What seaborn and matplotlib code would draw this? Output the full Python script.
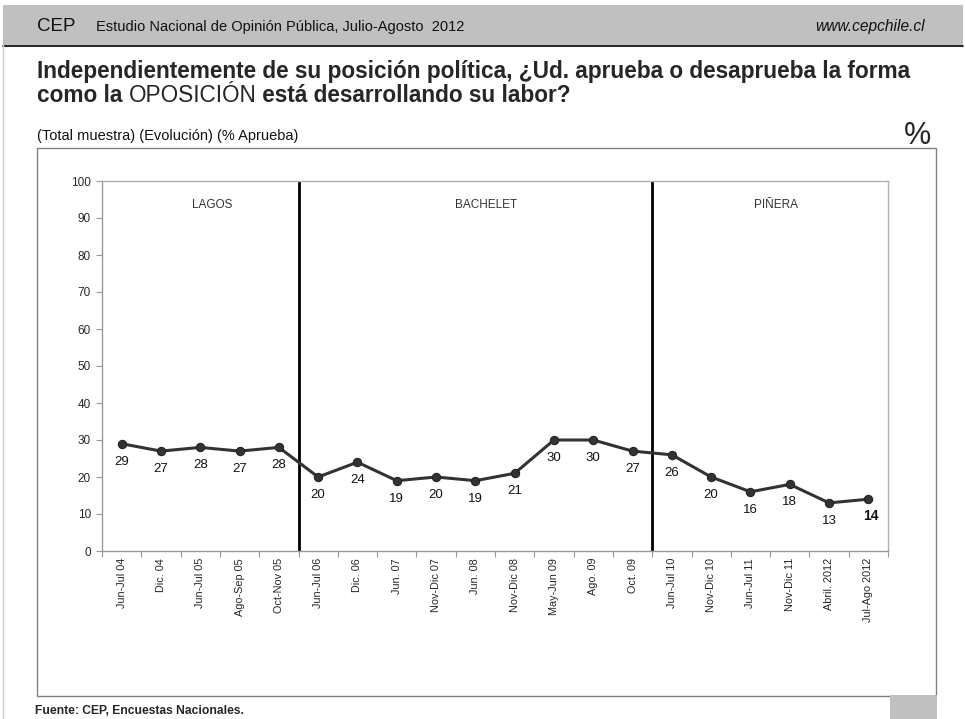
import numpy as np
import matplotlib.pyplot as plt
import matplotlib.patches as patches
import seaborn as sns
import pandas as pd

# Survey waves and % approval of the opposition
periods = ['Jun-Jul 04', 'Dic. 04', 'Jun-Jul 05', 'Ago-Sep 05', 'Oct-Nov 05',
           'Jun-Jul 06', 'Dic. 06', 'Jun. 07', 'Nov-Dic 07', 'Jun. 08',
           'Nov-Dic 08', 'May-Jun 09', 'Ago. 09', 'Oct. 09', 'Jun-Jul 10',
           'Nov-Dic 10', 'Jun-Jul 11', 'Nov-Dic 11', 'Abril. 2012', 'Jul-Ago 2012']
aprueba = [29, 27, 28, 27, 28, 20, 24, 19, 20, 19,
           21, 30, 30, 27, 26, 20, 16, 18, 13, 14]
gobiernos = ['LAGOS', 'BACHELET', 'PIÑERA']
inicio_gobierno = ['Jun-Jul 06', 'Jun-Jul 10']
y_ticks = list(range(0, 101, 10))

df = pd.DataFrame({'periodo': periods, 'aprueba': aprueba})
df['x'] = np.arange(len(df))

sns.set_style('white')
plt.rcParams['font.family'] = ['Liberation Sans', 'DejaVu Sans']

W, H = 965, 719
fig = plt.figure(figsize=(W / 100, H / 100), dpi=100)


def fx(px):
    return px / W


def fy(py):
    return 1 - py / H


# page decorations: header band, left border, chart frame, footer block
fig.patches.append(patches.Rectangle((fx(3), fy(45)), fx(960), 40 / H,
                                     transform=fig.transFigure, facecolor='#c0c0c0',
                                     edgecolor='none', zorder=-2))
fig.patches.append(patches.Rectangle((fx(37), fy(696)), fx(899), 548 / H,
                                     transform=fig.transFigure, facecolor='white',
                                     edgecolor='#808080', lw=1, zorder=-2))
fig.patches.append(patches.Rectangle((fx(890), 0), fx(47), 24 / H,
                                     transform=fig.transFigure, facecolor='#c0c0c0',
                                     edgecolor='none', zorder=-2))
fig.add_artist(plt.Line2D([fx(3), fx(963)], [fy(46)] * 2,
                          transform=fig.transFigure, color='black', lw=1.2))
fig.add_artist(plt.Line2D([fx(3)] * 2, [0, fy(45)],
                          transform=fig.transFigure, color='#c8c8c8', lw=1))

fig.text(fx(37), fy(31), 'CEP', fontsize=13.5, va='baseline', ha='left', color='#111111')
fig.text(fx(96), fy(31), 'Estudio Nacional de Opinión Pública, Julio-Agosto  2012',
         fontsize=10.5, va='baseline', ha='left', color='#111111')
fig.text(fx(925), fy(31), 'www.cepchile.cl', fontsize=11.2, style='italic',
         va='baseline', ha='right', color='#111111')

fig.text(fx(37), fy(78),
         'Independientemente de su posición política, ¿Ud. aprueba o desaprueba la forma',
         fontsize=16.3, fontweight='bold', va='baseline', ha='left')
t = fig.text(fx(37), fy(102), 'como la ', fontsize=16.3, fontweight='bold',
             va='baseline', ha='left')
fig.canvas.draw()
rend = fig.canvas.get_renderer()
bb = t.get_window_extent(renderer=rend)
t2 = fig.text(bb.x1 / fig.bbox.width, fy(102), 'OPOSICIÓN', fontsize=16.3,
              va='baseline', ha='left')
bb2 = t2.get_window_extent(renderer=rend)
fig.text(bb2.x1 / fig.bbox.width, fy(102), ' está desarrollando su labor?',
         fontsize=16.3, fontweight='bold', va='baseline', ha='left')

fig.text(fx(37), fy(140), '(Total muestra) (Evolución) (% Aprueba)',
         fontsize=10.5, va='baseline', ha='left', color='#111111')
fig.text(fx(931), fy(144), '%', fontsize=22, va='baseline', ha='right')
fig.text(fx(35), fy(714), 'Fuente: CEP, Encuestas Nacionales.',
         fontsize=8.7, fontweight='bold', va='baseline', ha='left')

ax = fig.add_axes([fx(102), fy(551), fx(786), 370 / H])
ax.set_facecolor('none')
sns.lineplot(data=df, x='x', y='aprueba', ax=ax, color='#333333', lw=2.2,
             marker='o', markersize=6, markeredgecolor='#222222',
             markerfacecolor='#333333', zorder=3)

for i, (xv, yv) in enumerate(zip(df['x'], df['aprueba'])):
    last = i == len(df) - 1
    ax.annotate(str(yv), (xv, yv), xytext=(2 if last else 0, -12 if last else -13),
                textcoords='offset points', ha='center', va='center',
                fontsize=10 if last else 9.5,
                fontweight='bold' if last else 'normal', color='#111111')

for p in inicio_gobierno:
    ax.axvline(periods.index(p) - 0.5, color='black', lw=2, zorder=2)

gob_x = [2.3, 9.27, 16.65]
for g, gx in zip(gobiernos, gob_x):
    ax.text(gx, 93.5, g, ha='center', va='center', fontsize=8.5, color='#333333')

ax.set_xlim(-0.5, len(periods) - 0.5)
ax.set_ylim(0, 100)
ax.set_yticks(y_ticks)
ax.set_xticks(np.arange(len(periods) + 1) - 0.5)
ax.set_xticklabels([])
ax.set_xticks(df['x'], minor=True)
ax.set_xticklabels(periods, minor=True, rotation=90, fontsize=7.8)
ax.tick_params(axis='x', which='minor', length=0, pad=5)
ax.tick_params(axis='x', which='major', length=4, color='#999999', direction='out',
               bottom=True)
ax.tick_params(axis='y', length=4, color='#999999', labelsize=8.5, direction='out',
               pad=4, left=True)
ax.set_xlabel('')
ax.set_ylabel('')
for s in ax.spines.values():
    s.set_color('#b0b0b0')
    s.set_linewidth(1)
ax.spines['left'].set_color('#999999')
ax.spines['bottom'].set_color('#999999')

plt.savefig('out.png', dpi=100)
plt.close()
